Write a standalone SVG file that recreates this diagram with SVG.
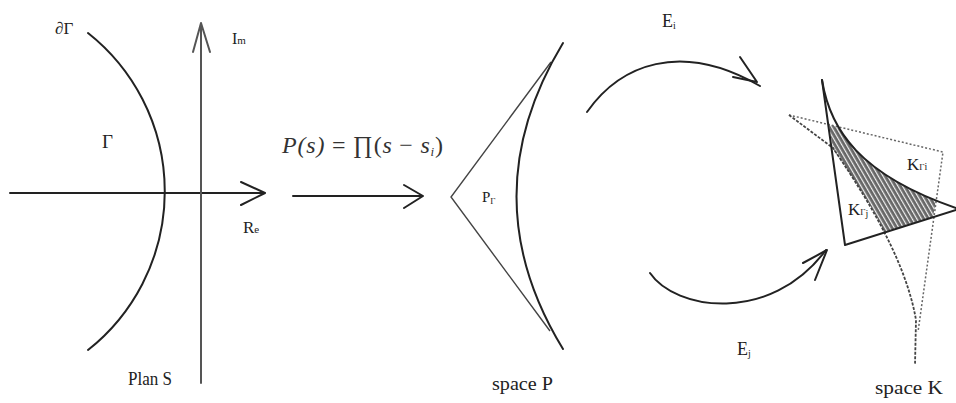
<svg xmlns="http://www.w3.org/2000/svg" width="956" height="403" viewBox="0 0 956 403">
<defs>
<style>
text{font-family:"Liberation Serif","DejaVu Serif",serif;fill:#222}
.ln{fill:none;stroke:#222;stroke-width:2;stroke-linecap:round;stroke-linejoin:round}
.thin{fill:none;stroke:#444;stroke-width:1.4}
.dot{fill:none;stroke:#666;stroke-width:1.5;stroke-dasharray:2 2}
.dash{fill:none;stroke:#444;stroke-width:1.8;stroke-dasharray:3 1.5}
.lbl{font-size:18px}
.sub{font-size:10px}
.math{font-size:24px;font-style:italic;fill:#333}
</style>
<pattern id="hatch" width="4" height="4" patternUnits="userSpaceOnUse" patternTransform="rotate(-30)">
<rect width="4" height="4" fill="#666"/>
<rect width="1.2" height="4" fill="#f0f0f0"/>
</pattern>
</defs>

<g id="plan-s">
<path class="ln" d="M10,193 L264,193 M241,182 L265,193 L241,205"/>
<path d="M201,383 L201,23 M193,52 L201,23 L210,52" fill="none" stroke="#555" stroke-width="2" stroke-linecap="round" stroke-linejoin="round"/>
<path class="ln" d="M88,33 A202,202 0 0 1 88,350" stroke-width="1.6"/>
<text x="55" y="34" font-size="17"><tspan font-style="italic">∂</tspan>Γ</text>
<text x="102" y="148" font-size="19">Γ</text>
<text x="232" y="44" font-size="16">I<tspan font-size="11">m</tspan></text>
<text x="243" y="233" font-size="17">R<tspan font-size="11">e</tspan></text>
<text class="lbl" x="128" y="385" textLength="44" lengthAdjust="spacingAndGlyphs">Plan S</text>
</g>

<g id="mapping">
<path class="ln" d="M293,196 L422,196 M404,185 L423,196 L404,208"/>
<text class="math" x="282" y="153" textLength="161" lengthAdjust="spacing">P(s)<tspan font-style="normal"> = ∏(</tspan>s<tspan font-style="normal"> − </tspan>s<tspan dy="3" font-size="13">i</tspan><tspan dy="-3" font-style="normal">)</tspan></text>
</g>

<g id="space-p">
<path class="thin" d="M551,62 L451,197 L550,331"/>
<path class="ln" d="M563,43 Q470,197 563,349" stroke-width="1.8"/>
<text x="482" y="202" font-size="15">P<tspan font-size="9" dy="2">Γ</tspan></text>
<text x="492" y="390" font-size="19" textLength="61" lengthAdjust="spacingAndGlyphs">space P</text>
</g>

<g id="connectors">
<path class="ln" d="M587,112 C620,65 680,40 760,86" stroke-width="1.8"/>
<path class="ln" d="M740,57 L757,82 L733,77"/>
<path class="ln" d="M650,273 C675,310 770,325 826,250" stroke-width="1.8"/>
<path class="ln" d="M803,263 L827,250 L815,280"/>
<text x="662" y="27" font-size="18">E<tspan class="sub" dy="2">i</tspan></text>
<text x="737" y="355" font-size="18">E<tspan class="sub" dy="2">j</tspan></text>
</g>

<g id="space-k">
<path d="M829,125 L834,126 L840,130 L850,142 L862,157 L878,170 L896,181 L917,192 L934,200 L936,200 L933,217 L884,232 L880,223 L870,205 L855,181 L833,149 Z" fill="url(#hatch)"/>
<path class="dot" d="M789,115 L943,152 L918,332"/>
<path class="dash" d="M789,115 L833,148 C858,185 905,255 916,320 L915,365"/>
<path class="ln" d="M822,80 L845,245 L956,210"/>
<path class="ln" d="M822,80 C830,130 860,175 956,208"/>
<text x="907" y="170" font-size="17">K<tspan font-size="9">Γ</tspan><tspan font-size="10">i</tspan></text>
<text x="848" y="215" font-size="17">K<tspan font-size="9">Γ</tspan><tspan font-size="10" dy="2">j</tspan></text>
<text x="875" y="394" font-size="19" textLength="68" lengthAdjust="spacingAndGlyphs">space K</text>
</g>
</svg>
